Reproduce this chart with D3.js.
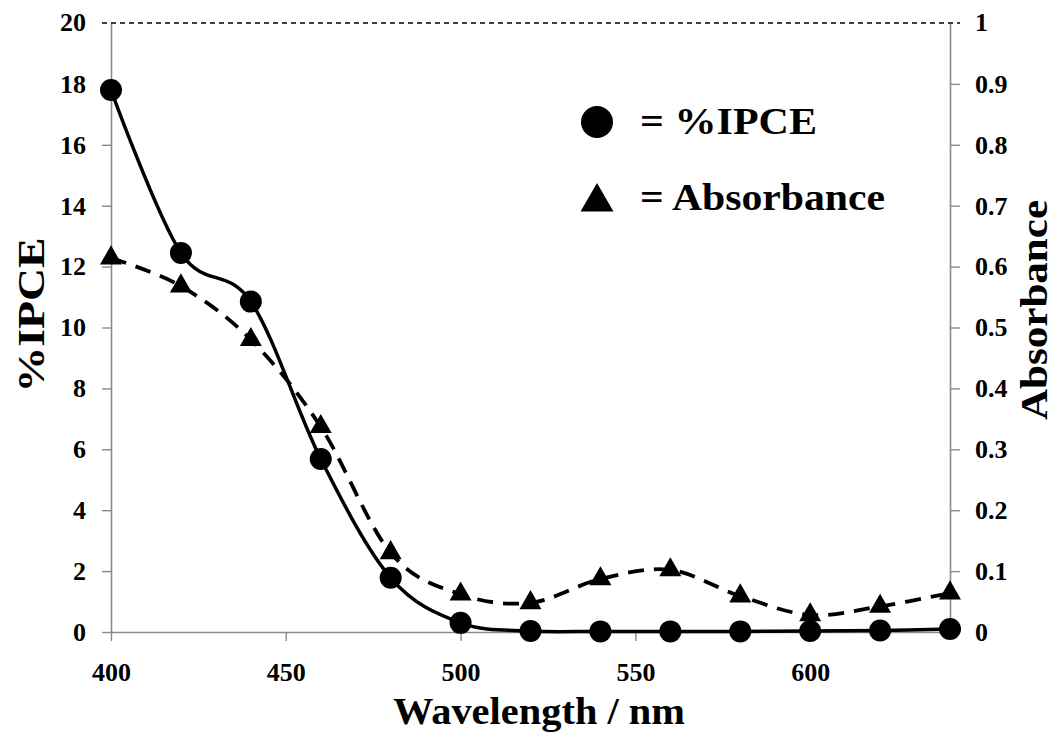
<!DOCTYPE html>
<html lang="en">
<head>
<meta charset="UTF-8">
<title>IPCE and absorbance</title>
<script src="https://cdn.jsdelivr.net/npm/d3@7"></script>
<style>
	body { margin: 0; background: #fff; }
	text { font-family: "Liberation Serif", "Times New Roman", serif; font-weight: bold; fill: #000; }
</style>
</head>
<body>
<svg></svg>
<script>
	// values
	var wavelengths = [400, 420, 440, 460, 480, 500, 520, 540, 560, 580, 600, 620, 640];
	var ipce = [17.8, 12.45, 10.85, 5.68, 1.78, 0.3, 0.03, 0.02, 0.02, 0.02, 0.03, 0.05, 0.1];
	var absorbance = [0.614, 0.568, 0.48, 0.337, 0.13, 0.062, 0.048, 0.087, 0.102, 0.059, 0.028, 0.042, 0.064];
	var xTicks = [400, 450, 500, 550, 600];
	var yLeftTicks = [0, 2, 4, 6, 8, 10, 12, 14, 16, 18];
	var yRightTicks = [0, 0.1, 0.2, 0.3, 0.4, 0.5, 0.6, 0.7, 0.8, 0.9];

	var width = 1056, height = 742;
	var margin = {top: 23, left: 111, bottom: 110, right: 106};

	var svg = d3.select('svg')
		.attr('width', width)
		.attr('height', height);

	var x = d3.scaleLinear()
		.domain([400, 640])
		.range([margin.left, width - margin.right]);

	var yL = d3.scaleLinear()
		.domain([0, 20])
		.range([height - margin.bottom, margin.top]);

	var yR = d3.scaleLinear()
		.domain([0, 1])
		.range([height - margin.bottom, margin.top]);

	var axisColor = '#8a8a8a';

	function styleAxis(g) {
		g.selectAll('.domain').attr('stroke', axisColor).attr('stroke-width', 1.6);
		g.selectAll('.tick line').attr('stroke', axisColor).attr('stroke-width', 1.4);
		g.selectAll('.tick text')
			.style('font-family', '"Liberation Serif", "Times New Roman", serif')
			.style('font-weight', 'bold')
			.style('font-size', '26px')
			.attr('fill', '#000');
	}

	// left axis
	svg.append('g')
		.attr('transform', 'translate(' + margin.left + ',0)')
		.call(d3.axisLeft(yL).tickValues(yLeftTicks).tickSize(9).tickSizeOuter(0).tickPadding(16))
		.call(styleAxis);

	// right axis
	svg.append('g')
		.attr('transform', 'translate(' + (width - margin.right) + ',0)')
		.call(d3.axisRight(yR).tickValues(yRightTicks).tickSize(10).tickSizeOuter(0).tickPadding(15)
			.tickFormat(function (d) { return d === 0 ? '0' : d3.format('.1f')(d); }))
		.call(styleAxis);

	// bottom axis
	svg.append('g')
		.attr('transform', 'translate(0,' + yL(0) + ')')
		.call(d3.axisBottom(x).tickValues(xTicks).tickSize(9).tickSizeOuter(0).tickPadding(22))
		.call(styleAxis);

	// top dashed border with labels 20 and 1
	svg.append('line')
		.attr('x1', margin.left - 9)
		.attr('x2', width - margin.right + 10)
		.attr('y1', yL(20))
		.attr('y2', yL(20))
		.attr('stroke', '#000')
		.attr('stroke-width', 1.3)
		.attr('stroke-dasharray', '5,4');

	svg.append('text')
		.attr('x', margin.left - 25)
		.attr('y', yL(20))
		.attr('dy', '0.32em')
		.attr('text-anchor', 'end')
		.style('font-size', '26px')
		.text('20');

	svg.append('text')
		.attr('x', width - margin.right + 25)
		.attr('y', yR(1))
		.attr('dy', '0.32em')
		.style('font-size', '26px')
		.text('1');

	// lines
	var curve = d3.curveCatmullRom.alpha(0);

	var ipceLine = d3.line()
		.curve(curve)
		.x(function (d, i) { return x(wavelengths[i]); })
		.y(function (d) { return yL(d); });

	var absLine = d3.line()
		.curve(curve)
		.x(function (d, i) { return x(wavelengths[i]); })
		.y(function (d) { return yR(d); });

	svg.append('path')
		.datum(ipce)
		.attr('fill', 'none')
		.attr('stroke', '#000')
		.attr('stroke-width', 3.5)
		.attr('d', ipceLine);

	svg.selectAll('.dot')
		.data(ipce)
		.enter()
		.append('circle')
		.attr('class', 'dot')
		.attr('r', 11)
		.attr('fill', '#000')
		.attr('cx', function (d, i) { return x(wavelengths[i]); })
		.attr('cy', function (d) { return yL(d); });

	svg.append('path')
		.datum(absorbance)
		.attr('fill', 'none')
		.attr('stroke', '#000')
		.attr('stroke-width', 3.8)
		.attr('stroke-dasharray', '16,10')
		.attr('d', absLine);

	var tri = d3.symbol().type(d3.symbolTriangle).size(210);

	svg.selectAll('.tri')
		.data(absorbance)
		.enter()
		.append('path')
		.attr('class', 'tri')
		.attr('fill', '#000')
		.attr('d', tri)
		.attr('transform', function (d, i) {
			return 'translate(' + x(wavelengths[i]) + ',' + yR(d) + ')';
		});

	// legend
	svg.append('circle')
		.attr('cx', 597)
		.attr('cy', 122)
		.attr('r', 16)
		.attr('fill', '#000');

	svg.append('path')
		.attr('d', d3.symbol().type(d3.symbolTriangle).size(470))
		.attr('fill', '#000')
		.attr('transform', 'translate(597,202)');

	svg.append('text')
		.attr('x', 640)
		.attr('y', 134)
		.attr('textLength', 177)
		.attr('lengthAdjust', 'spacingAndGlyphs')
		.style('font-size', '38px')
		.text('= %IPCE');

	svg.append('text')
		.attr('x', 640)
		.attr('y', 210)
		.attr('textLength', 245)
		.attr('lengthAdjust', 'spacingAndGlyphs')
		.style('font-size', '38px')
		.text('= Absorbance');

	// axis titles
	svg.append('text')
		.attr('x', 539)
		.attr('y', 724)
		.attr('text-anchor', 'middle')
		.attr('textLength', 292)
		.attr('lengthAdjust', 'spacingAndGlyphs')
		.style('font-size', '37px')
		.text('Wavelength / nm');

	svg.append('text')
		.attr('transform', 'translate(44,315) rotate(-90)')
		.attr('text-anchor', 'middle')
		.attr('textLength', 155)
		.attr('lengthAdjust', 'spacingAndGlyphs')
		.style('font-size', '38px')
		.text('%IPCE');

	svg.append('text')
		.attr('transform', 'translate(1047,310) rotate(-90)')
		.attr('text-anchor', 'middle')
		.attr('textLength', 220)
		.attr('lengthAdjust', 'spacingAndGlyphs')
		.style('font-size', '37px')
		.text('Absorbance');
</script>
</body>
</html>
